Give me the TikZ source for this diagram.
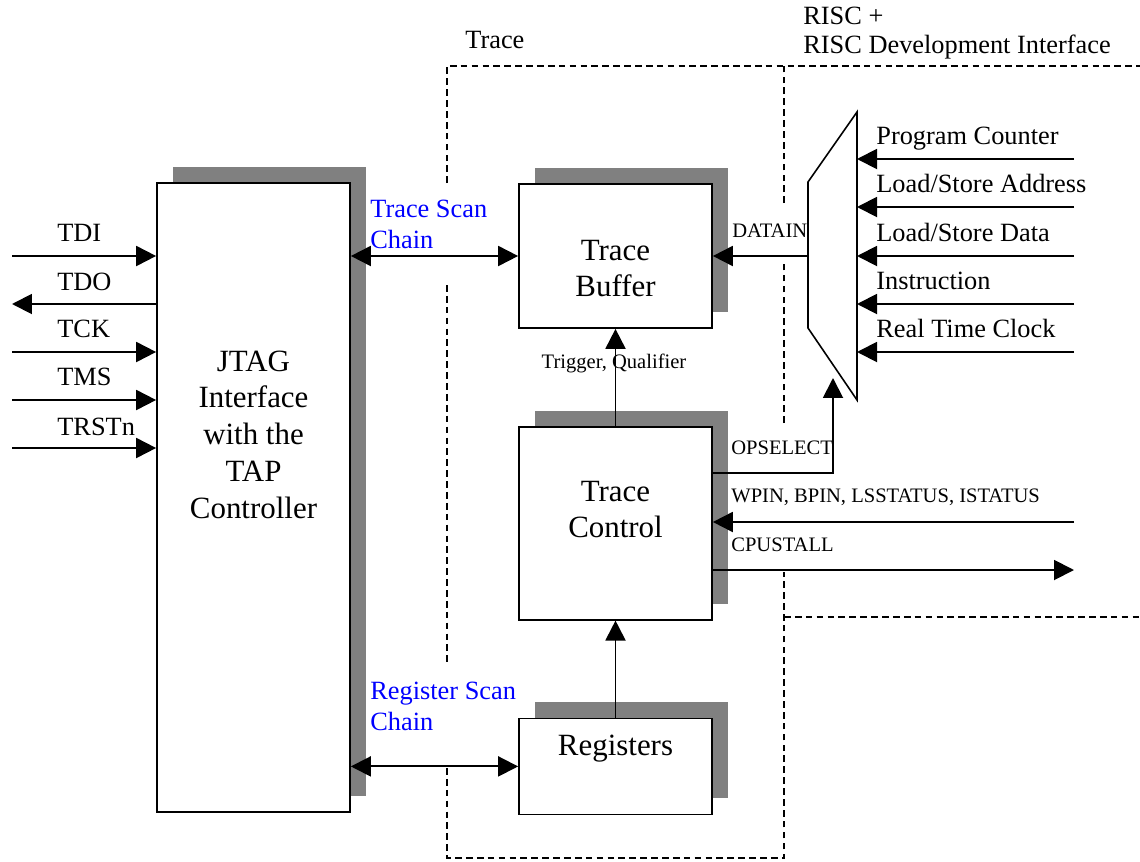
\documentclass[tikz,border=0pt]{standalone}
\usepackage{fontspec}
\setmainfont{Liberation Serif}
\usetikzlibrary{positioning, shadows}
\usetikzlibrary{arrows.meta}
\tikzset{>={Triangle[width=4mm,length=4mm]}}
\newcommand{\blockfont}{\fontsize{17.6}{20.9}\selectfont}
\newcommand{\sigfont}{\fontsize{15}{17.6}\selectfont}
\newcommand{\busfont}{\fontsize{11.7}{14}\selectfont}
\definecolor{chainblue}{RGB}{0,0,255}

\begin{document}
\begin{tikzpicture}[x=0.02cm, y=-0.02cm, block/.style={rectangle, draw=black, fill=white, line width=1pt, minimum width=3.86cm, inner sep=0pt, drop shadow={shadow xshift=0.32cm, shadow yshift=0.32cm, fill=black!50, opacity=1}}, blocktext/.style={align=center, font=\blockfont, inner sep=0pt}, sigtext/.style={anchor=base west, font=\sigfont, inner sep=0pt}, bustext/.style={anchor=base west, font=\busfont, inner sep=0pt}, chaintext/.style={anchor=north west, align=left, font=\sigfont, text=chainblue, inner sep=0pt}, region/.style={dash pattern=on 3.8pt off 2.4pt, line width=0.7pt}, wire/.style={line width=1.1pt}]

    \useasboundingbox (0,0) rectangle (1140,862);

    %Nodes
    \node[block, minimum height=12.58cm](jtag) at (253.5,497.5) {};
    \node[block, minimum height=2.88cm](trace_buffer) at (615.5,256) {};
    \node[block, minimum height=3.86cm](trace_control)[below=1.94cm of trace_buffer] {};
    \node[block, minimum height=1.92cm](registers)[below=1.94cm of trace_control] {};

    \node[blocktext](jtag_text) at (253.5,434.5) {JTAG\\Interface\\with the\\TAP\\Controller};
    \node[blocktext](buffer_text) at (615.5,268.5) {Trace\\Buffer};
    \node[blocktext](control_text) at (615.5,509.5) {Trace\\Control};
    \node[blocktext, anchor=base](registers_text) at (615.5,755) {Registers};

    %Mux
    \coordinate (mux_top) at (857,112);
    \coordinate (mux_bottom) at (857,400);
    \coordinate (mux_low) at (808,328);
    \coordinate (mux_high) at (808,182);
    \coordinate (mux_out) at (808,256);
    \coordinate (mux_select) at (833,378);
    \draw[line width=0.9pt] (mux_top) -- (mux_bottom) -- (mux_low) -- (mux_high) -- cycle;

    %Regions
    \draw[region] (447,183) -- (447,66) -- (1140,66);
    \draw[region] (447,285) -- (447,665);
    \draw[region] (447,768) -- (447,858) -- (784,858) -- (784,572);
    \draw[region] (784,423) -- (784,262);
    \draw[region] (784,203) -- (784,66);
    \draw[region] (784,617) -- (1140,617);

    \node[sigtext](trace_region_text) at (465,49) {Trace};
    \node[sigtext, anchor=north west, align=left](risc_region_text) at (803,6.5) {RISC +\\[-1.2pt]RISC Development Interface};

    %Labels
    \node[sigtext](tdi_text) at (57,241) {TDI};
    \node[sigtext](tdo_text) at (57,290) {TDO};
    \node[sigtext](tck_text) at (57,337) {TCK};
    \node[sigtext](tms_text) at (57,385) {TMS};
    \node[sigtext](trst_text) at (57,435) {TRSTn};

    \node[chaintext](trace_chain_text) at (370,199.5) {Trace Scan\\Chain};
    \node[chaintext](register_chain_text) at (370,681.5) {Register Scan\\Chain};

    \node[bustext](datain_text) at (732,237) {DATAIN};
    \node[bustext, anchor=base](trigger_text) at (614,368) {Trigger, Qualifier};
    \node[bustext](opselect_text) at (731,454) {OPSELECT};
    \node[bustext](status_text) at (731,502) {WPIN, BPIN, LSSTATUS, ISTATUS};
    \node[bustext](cpustall_text) at (731,551) {CPUSTALL};

    \node[sigtext](pc_text) at (876,144) {Program Counter};
    \node[sigtext](ls_address_text) at (876,192) {Load/Store Address};
    \node[sigtext](ls_data_text) at (876,241) {Load/Store Data};
    \node[sigtext](instruction_text) at (876,289) {Instruction};
    \node[sigtext](rtc_text) at (876,337) {Real Time Clock};

    %Ends
    \coordinate (tdi_in) at (12,256);
    \coordinate (tdo_out) at (12,304);
    \coordinate (tck_in) at (12,352);
    \coordinate (tms_in) at (12,400);
    \coordinate (trst_in) at (12,448);
    \coordinate (pc_in) at (1074,159);
    \coordinate (ls_address_in) at (1074,207);
    \coordinate (ls_data_in) at (1074,256);
    \coordinate (instruction_in) at (1074,304);
    \coordinate (rtc_in) at (1074,352);
    \coordinate (opselect_turn) at (833,473);
    \coordinate (status_in) at (1074,522);
    \coordinate (cpustall_out) at (1074,570);

    %Lines
    \draw[wire, ->] (tdi_in) -- (tdi_in -| jtag.west);
    \draw[wire, ->] (tdo_out -| jtag.west) -- (tdo_out);
    \draw[wire, ->] (tck_in) -- (tck_in -| jtag.west);
    \draw[wire, ->] (tms_in) -- (tms_in -| jtag.west);
    \draw[wire, ->] (trst_in) -- (trst_in -| jtag.west);
    \draw[wire, <->] (trace_buffer.west -| jtag.east) -- (trace_buffer.west);
    \draw[wire, <->] (registers.west -| jtag.east) -- (registers.west);
    \draw[wire, ->] (trace_control.north) -- (trace_buffer.south);
    \draw[wire, ->] (registers.north) -- (trace_control.south);
    \draw[wire, ->] (mux_out) -- (trace_buffer.east);
    \draw[wire, ->] (pc_in) -- (pc_in -| mux_top);
    \draw[wire, ->] (ls_address_in) -- (ls_address_in -| mux_top);
    \draw[wire, ->] (ls_data_in) -- (ls_data_in -| mux_top);
    \draw[wire, ->] (instruction_in) -- (instruction_in -| mux_top);
    \draw[wire, ->] (rtc_in) -- (rtc_in -| mux_top);
    \draw[wire, ->] (opselect_turn -| trace_control.east) -- (opselect_turn) -- (mux_select);
    \draw[wire, ->] (status_in) -- (status_in -| trace_control.east);
    \draw[wire, ->] (cpustall_out -| trace_control.east) -- (cpustall_out);

\end{tikzpicture}
\end{document}
